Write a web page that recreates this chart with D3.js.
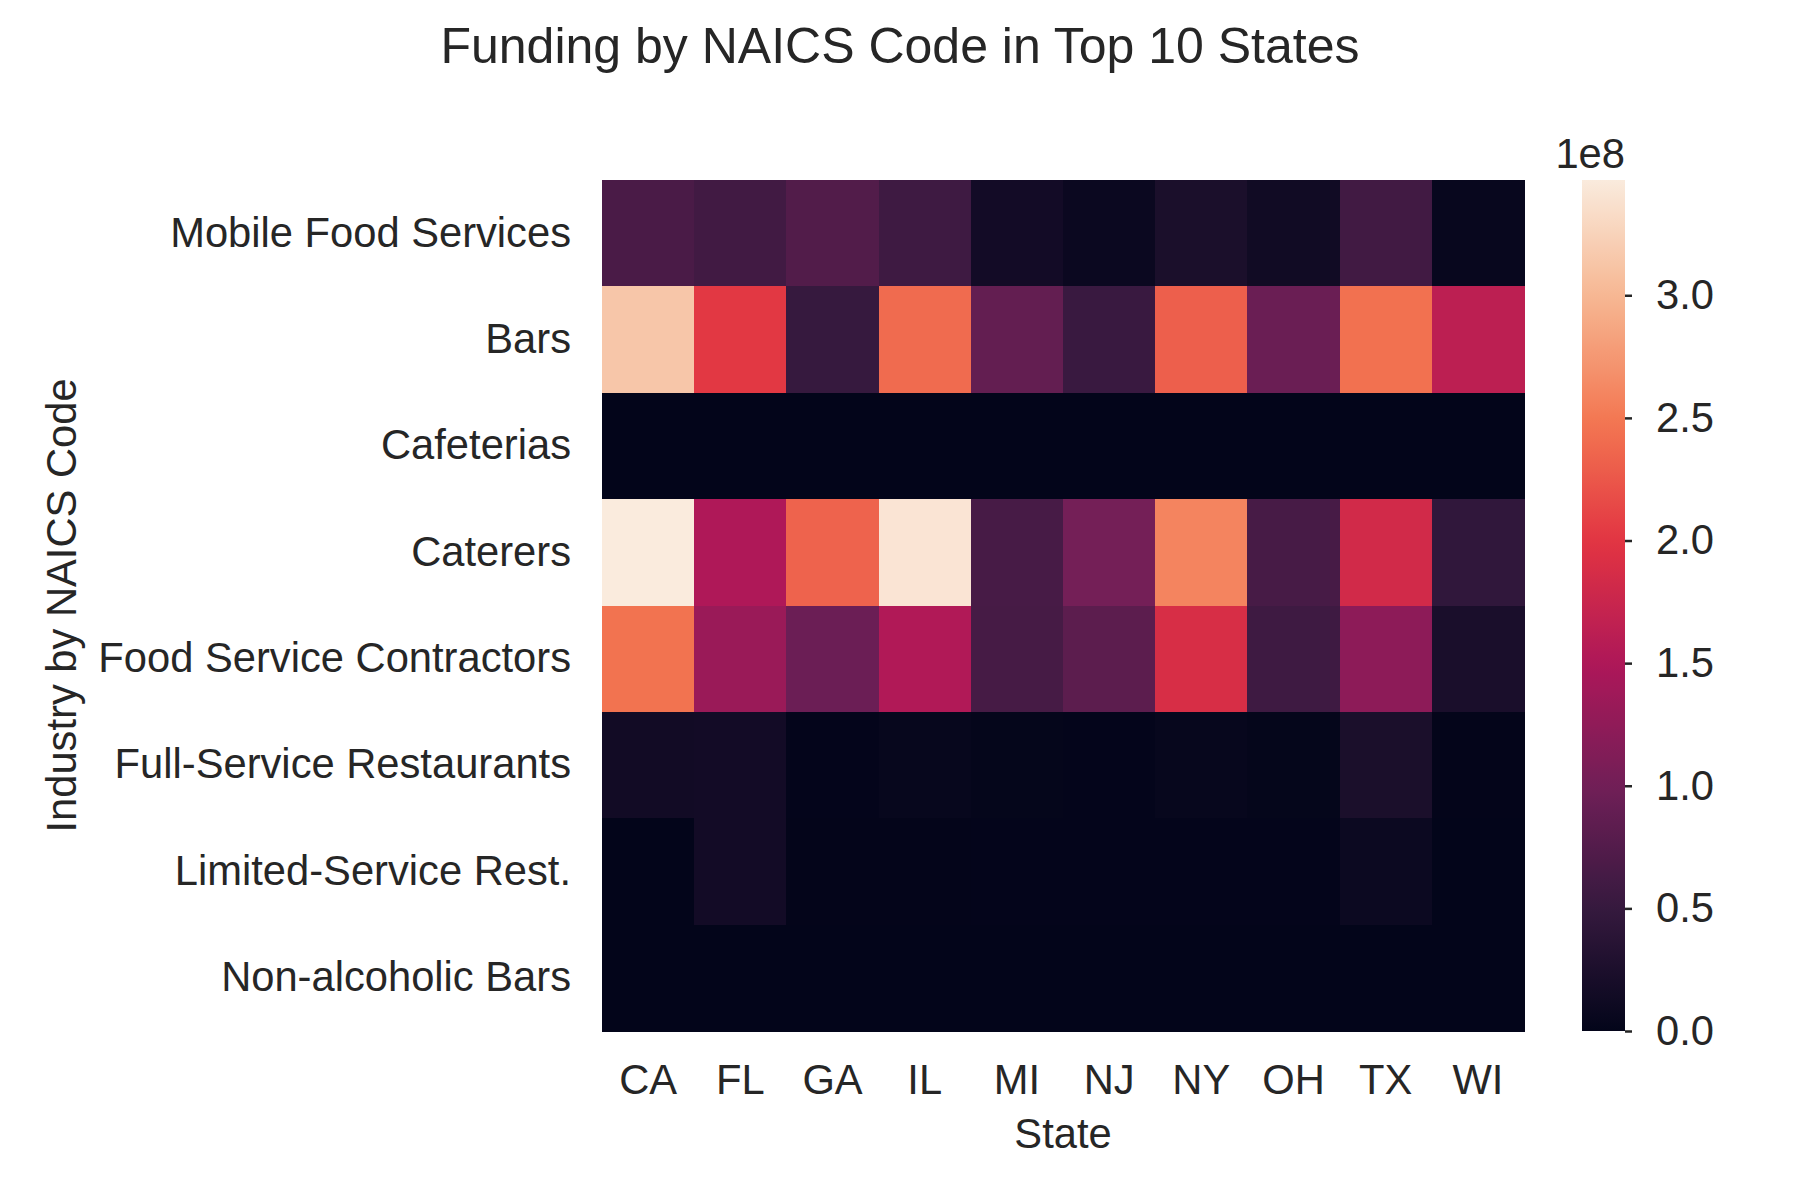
<!DOCTYPE html>
<html>
<head>
<meta charset="utf-8">
<script src="https://cdn.jsdelivr.net/npm/d3@7"></script>
<style>
  html, body { margin: 0; padding: 0; background: #ffffff; }
  svg { display: block; }
  text { font-family: "Liberation Sans", Arial, sans-serif; fill: #262626; }
</style>
</head>
<body>
<svg id="chart" width="1800" height="1200"></svg>
<script>
// ---- data ----
const states = ["CA", "FL", "GA", "IL", "MI", "NJ", "NY", "OH", "TX", "WI"];
const industries = [
  "Mobile Food Services", "Bars", "Cafeterias", "Caterers",
  "Food Service Contractors", "Full-Service Restaurants",
  "Limited-Service Rest.", "Non-alcoholic Bars"
];
// funding values (dollars), one array per industry, in state order
const mobileFood   = [0.67e8, 0.60e8, 0.74e8, 0.57e8, 0.16e8, 0.08e8, 0.24e8, 0.14e8, 0.60e8, 0.05e8];
const bars         = [3.14e8, 2.02e8, 0.50e8, 2.40e8, 0.88e8, 0.53e8, 2.31e8, 0.94e8, 2.44e8, 1.63e8];
const cafeterias   = [0.003e8, 0.002e8, 0.001e8, 0.002e8, 0.001e8, 0.001e8, 0.002e8, 0.001e8, 0.002e8, 0.001e8];
const caterers     = [3.47e8, 1.51e8, 2.34e8, 3.41e8, 0.65e8, 1.02e8, 2.59e8, 0.65e8, 1.83e8, 0.45e8];
const contractors  = [2.46e8, 1.33e8, 0.95e8, 1.53e8, 0.64e8, 0.82e8, 1.89e8, 0.57e8, 1.23e8, 0.23e8];
const fullService  = [0.15e8, 0.16e8, 0.01e8, 0.04e8, 0.015e8, 0.012e8, 0.04e8, 0.015e8, 0.24e8, 0.005e8];
const limitedServ  = [0.003e8, 0.16e8, 0.005e8, 0.006e8, 0.012e8, 0.01e8, 0.01e8, 0.008e8, 0.09e8, 0.004e8];
const nonAlcohol   = [0.0, 0.0, 0.0, 0.0, 0.0, 0.0, 0.0, 0.0, 0.0, 0.0];
const seriesValues = [mobileFood, bars, cafeterias, caterers, contractors, fullService, limitedServ, nonAlcohol];
const colorbarTicks = [0.0, 0.5, 1.0, 1.5, 2.0, 2.5, 3.0];
const cbExponentLabel = "1e8";
const titleText = "Funding by NAICS Code in Top 10 States";
const xLabel = "State";
const yLabel = "Industry by NAICS Code";

// rocket colormap control points
const rocketStops = ["#03051a", "#35193e", "#701f57", "#ad1759", "#e13342", "#f37651", "#f6b48f", "#faebdd"];

// ---- layout ----
const svg = d3.select("#chart");
const plot = { left: 602, right: 1524, top: 180, bottom: 1031 };
const cb = { left: 1582, right: 1625 };
const textColor = "#262626";
const tickFont = 41.7;
const titleFont = 50;

const cells = [];
industries.forEach((ind, i) => {
  states.forEach((st, j) => {
    cells.push({ industry: ind, state: st, value: seriesValues[i][j] });
  });
});
const vmax = d3.max(cells, d => d.value);

const x = d3.scaleBand().domain(states).range([plot.left, plot.right]).padding(0);
const y = d3.scaleBand().domain(industries).range([plot.top, plot.bottom]).padding(0);
const color = d3.scaleSequential(d3.piecewise(d3.interpolateRgb, rocketStops)).domain([0, vmax]);

// cells
svg.append("g")
  .attr("shape-rendering", "crispEdges")
  .selectAll("rect")
  .data(cells)
  .join("rect")
  .attr("x", d => x(d.state))
  .attr("y", d => y(d.industry))
  .attr("width", x.bandwidth() + 0.5)
  .attr("height", y.bandwidth() + 0.5)
  .attr("fill", d => color(d.value));

// x axis
const xAxis = svg.append("g")
  .attr("transform", `translate(0,${plot.bottom})`)
  .call(d3.axisBottom(x).tickSize(0).tickPadding(33));
xAxis.select(".domain").remove();
xAxis.selectAll("text")
  .attr("font-size", tickFont)
  .attr("fill", textColor)
  .attr("font-family", "Liberation Sans, Arial, sans-serif");

// y axis
const yAxis = svg.append("g")
  .attr("transform", `translate(${plot.left},0)`)
  .call(d3.axisLeft(y).tickSize(0).tickPadding(31));
yAxis.select(".domain").remove();
yAxis.selectAll("text")
  .attr("font-size", tickFont)
  .attr("fill", textColor)
  .attr("font-family", "Liberation Sans, Arial, sans-serif");

// axis labels
svg.append("text")
  .attr("x", (plot.left + plot.right) / 2)
  .attr("y", 1148)
  .attr("text-anchor", "middle")
  .attr("font-size", tickFont)
  .text(xLabel);

svg.append("text")
  .attr("transform", `translate(76,${(plot.top + plot.bottom) / 2}) rotate(-90)`)
  .attr("text-anchor", "middle")
  .attr("font-size", tickFont)
  .text(yLabel);

// title
svg.append("text")
  .attr("x", 900)
  .attr("y", 63)
  .attr("text-anchor", "middle")
  .attr("font-size", titleFont)
  .text(titleText);

// colorbar
const defs = svg.append("defs");
const grad = defs.append("linearGradient")
  .attr("id", "cbgrad")
  .attr("x1", "0").attr("y1", "1").attr("x2", "0").attr("y2", "0");
d3.range(0, 1.0001, 0.02).forEach(t => {
  grad.append("stop")
    .attr("offset", t)
    .attr("stop-color", color(t * vmax));
});
svg.append("rect")
  .attr("x", cb.left)
  .attr("y", plot.top)
  .attr("width", cb.right - cb.left)
  .attr("height", plot.bottom - plot.top)
  .attr("fill", "url(#cbgrad)");

const cbScale = d3.scaleLinear().domain([0, vmax / 1e8]).range([plot.bottom, plot.top]);
const cbAxis = svg.append("g")
  .attr("transform", `translate(${cb.right},0)`)
  .call(d3.axisRight(cbScale).tickValues(colorbarTicks).tickFormat(d3.format(".1f")).tickSize(7).tickPadding(24));
cbAxis.select(".domain").remove();
cbAxis.selectAll("line").attr("stroke", textColor).attr("stroke-width", 2.5);
cbAxis.selectAll("text")
  .attr("font-size", tickFont)
  .attr("fill", textColor)
  .attr("font-family", "Liberation Sans, Arial, sans-serif");

svg.append("text")
  .attr("x", cb.right)
  .attr("y", 168)
  .attr("text-anchor", "end")
  .attr("font-size", tickFont)
  .text(cbExponentLabel);
</script>
</body>
</html>
